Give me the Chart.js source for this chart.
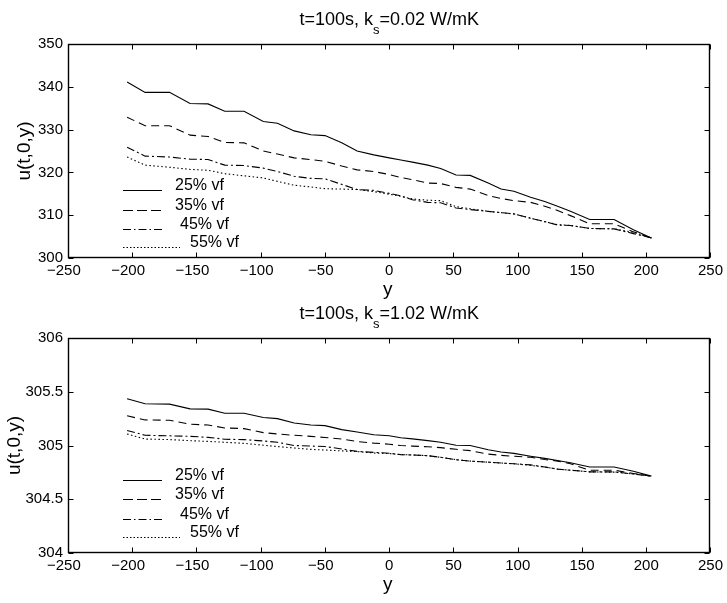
<!DOCTYPE html>
<html>
<head>
<meta charset="utf-8">
<script src="https://cdn.jsdelivr.net/npm/chart.js@4.4.0/dist/chart.umd.min.js"></script>
<style>
  body { margin: 0; background: #fff; }
  .panel { position: absolute; left: 0; width: 727px; }
</style>
</head>
<body>
<div class="panel" style="top:0;height:300px"><canvas id="topChart" width="727" height="300"></canvas></div>
<div class="panel" style="top:300px;height:303px"><canvas id="bottomChart" width="727" height="303"></canvas></div>
<script>
// position along y (shared by every curve)
const yPos = [-204, -190, -171, -155, -141, -128, -113, -98, -87, -74, -61, -50, -37, -25, -12, 0,
              9, 18, 30, 40, 52, 63, 77, 87, 97, 110, 121, 131, 141, 156, 175, 190, 204];

const labels = ["25% vf", "35% vf", "45% vf", "55% vf"];

// k_s = 0.02 W/mK
const top25 = [341.1, 338.7, 338.7, 336.1, 336.0, 334.3, 334.3, 331.9, 331.5, 329.7, 328.8, 328.6, 326.9, 325.0, 324.1, 323.4,
               322.9, 322.4, 321.7, 320.9, 319.4, 319.3, 317.5, 316.1, 315.6, 314.2, 313.2, 312.1, 310.9, 309.0, 309.0, 306.6, 304.7];
const top35 = [332.9, 330.9, 330.9, 328.7, 328.4, 327.0, 326.9, 325.0, 324.3, 323.4, 323.0, 322.6, 321.5, 320.6, 320.2, 319.5,
               318.8, 318.3, 317.5, 317.4, 316.5, 316.1, 314.6, 313.9, 313.4, 313.0, 312.1, 311.1, 309.9, 308.0, 308.0, 306.1, 304.7];
const top45 = [325.9, 323.8, 323.6, 323.1, 323.0, 321.7, 321.6, 321.0, 320.2, 319.1, 318.6, 318.5, 317.2, 316.0, 315.8, 315.1,
               314.5, 313.6, 313.0, 312.9, 311.7, 311.3, 310.9, 310.6, 310.3, 309.3, 308.5, 307.7, 307.6, 306.9, 306.8, 305.7, 304.7];
const top55 = [323.6, 321.7, 321.2, 320.7, 320.5, 319.7, 319.2, 318.7, 317.9, 317.0, 316.6, 316.2, 316.1, 316.0, 315.5, 314.9,
               314.4, 313.8, 313.5, 313.4, 312.0, 311.5, 310.9, 310.6, 310.3, 309.3, 308.5, 307.8, 307.6, 306.9, 306.8, 306.0, 304.7];

// k_s = 1.02 W/mK
const bot25 = [305.435, 305.388, 305.385, 305.341, 305.338, 305.30, 305.30, 305.26, 305.25, 305.21, 305.19, 305.185, 305.148, 305.125, 305.10, 305.09,
               305.072, 305.062, 305.045, 305.03, 305.003, 305.0, 304.96, 304.94, 304.927, 304.90, 304.88, 304.86, 304.84, 304.80, 304.80, 304.76, 304.715];
const bot35 = [305.276, 305.238, 305.235, 305.198, 305.19, 305.163, 305.157, 305.12, 305.107, 305.095, 305.085, 305.075, 305.06, 305.037, 305.022, 305.012,
               305.0, 304.994, 304.988, 304.98, 304.965, 304.952, 304.92, 304.908, 304.90, 304.89, 304.87, 304.855, 304.83, 304.77, 304.77, 304.74, 304.715];
const bot45 = [305.14, 305.095, 305.09, 305.085, 305.076, 305.058, 305.055, 305.042, 305.03, 305.0, 304.995, 304.99, 304.968, 304.945, 304.936, 304.928,
               304.915, 304.912, 304.905, 304.89, 304.868, 304.855, 304.845, 304.837, 304.83, 304.82, 304.80, 304.78, 304.77, 304.755, 304.755, 304.735, 304.715];
const bot55 = [305.107, 305.06, 305.055, 305.045, 305.038, 305.03, 305.02, 305.003, 304.99, 304.977, 304.964, 304.958, 304.95, 304.943, 304.93, 304.925,
               304.915, 304.912, 304.905, 304.89, 304.868, 304.855, 304.845, 304.837, 304.83, 304.815, 304.80, 304.78, 304.77, 304.755, 304.752, 304.735, 304.715];

const FONT = "'Liberation Sans', Arial, Helvetica, sans-serif";
const lineDash = [[], [8, 5], [8, 3, 2, 3], [1.5, 2.5]];
const legendDash = [[], [10, 4], [8, 3, 1.5, 3], [1.5, 2]];

function series(values) {
    return yPos.map((x, i) => ({ x: x, y: values[i] }));
}

function fmtTick(value) {
    let v = +value.toFixed(2);
    if (v < 0) return "\u2212" + Math.abs(v) + "  ";
    return String(v);
}

// box, inward ticks, title with subscript, axis labels and the old-style legend
const matlabAxes = {
    id: "matlabAxes",
    afterDraw(chart, args, opts) {
        let ctx = chart.ctx, a = chart.chartArea;
        let xs = chart.scales.x, ys = chart.scales.y;
        let L = Math.round(a.left) + 0.5, R = Math.round(a.right) - 0.5;
        let T = Math.round(a.top) + 0.5, B = Math.round(a.bottom) - 0.5;
        ctx.save();
        ctx.strokeStyle = "#000";
        ctx.lineWidth = 1.4;
        ctx.setLineDash([]);
        ctx.strokeRect(L, T, R - L, B - T);
        ctx.lineWidth = 1;
        ctx.beginPath();
        xs.ticks.forEach(t => {
            let px = Math.round(xs.getPixelForValue(t.value)) + 0.5;
            ctx.moveTo(px, B); ctx.lineTo(px, B - 5);
            ctx.moveTo(px, T); ctx.lineTo(px, T + 5);
        });
        ys.ticks.forEach(t => {
            let py = Math.round(ys.getPixelForValue(t.value)) + 0.5;
            ctx.moveTo(L, py); ctx.lineTo(L + 5, py);
            ctx.moveTo(R, py); ctx.lineTo(R - 5, py);
        });
        ctx.stroke();

        ctx.fillStyle = "#000";
        // title
        let cx = (a.left + a.right) / 2;
        ctx.font = "18px " + FONT;
        let w1 = ctx.measureText(opts.title[0]).width;
        let w3 = ctx.measureText(opts.title[2]).width;
        ctx.font = "13px " + FONT;
        let w2 = ctx.measureText(opts.title[1]).width;
        let x0 = cx - (w1 + w2 + w3) / 2;
        ctx.textAlign = "left";
        ctx.textBaseline = "alphabetic";
        ctx.font = "18px " + FONT;
        ctx.fillText(opts.title[0], x0, a.top - 19);
        ctx.fillText(opts.title[2], x0 + w1 + w2, a.top - 19);
        ctx.font = "13px " + FONT;
        ctx.fillText(opts.title[1], x0 + w1, a.top - 10);

        // axis labels
        ctx.font = "19px " + FONT;
        ctx.textAlign = "center";
        ctx.fillText("y", cx - 1.5, a.bottom + 37);
        ctx.save();
        ctx.translate(opts.yLabelX, (a.top + a.bottom) / 2);
        ctx.rotate(-Math.PI / 2);
        ctx.textBaseline = "middle";
        ctx.fillText("u(t,0,y)", 0, 0);
        ctx.restore();

        // legend
        ctx.font = "16px " + FONT;
        ctx.textAlign = "left";
        ctx.textBaseline = "alphabetic";
        const lineEnd = [162, 162, 163, 180];
        const textX = [175, 175, 180, 190];
        labels.forEach((lab, i) => {
            let ly = Math.round(a.top + opts.legendY[i]) + 0.5;
            ctx.beginPath();
            ctx.setLineDash(legendDash[i]);
            ctx.moveTo(123, ly);
            ctx.lineTo(lineEnd[i], ly);
            ctx.stroke();
            ctx.fillText(lab, textX[i], ly - 1);
        });
        ctx.restore();
    }
};

function makeChart(id, data, yMin, yMax, yStep, padTop, xAxisH, opts) {
    let datasets = data.map((vals, i) => ({
        label: labels[i],
        data: series(vals),
        borderColor: "#000",
        borderWidth: 1.1,
        borderDash: lineDash[i],
        pointRadius: 0,
        fill: false,
        tension: 0
    }));
    return new Chart(document.getElementById(id), {
        type: "line",
        data: { datasets: datasets },
        plugins: [matlabAxes],
        options: {
            responsive: false,
            animation: false,
            layout: { padding: { top: padTop, right: 14, left: 0, bottom: 0 } },
            plugins: {
                legend: { display: false },
                tooltip: { enabled: false },
                matlabAxes: opts
            },
            scales: {
                x: {
                    type: "linear",
                    min: -250, max: 250,
                    grid: { display: false, drawTicks: false },
                    border: { display: false },
                    ticks: {
                        stepSize: 50, autoSkip: false, maxRotation: 0, padding: 4,
                        color: "#000", font: { family: FONT, size: 15 },
                        callback: fmtTick
                    },
                    afterFit(scale) { scale.height = xAxisH; }
                },
                y: {
                    min: yMin, max: yMax,
                    grid: { display: false, drawTicks: false },
                    border: { display: false },
                    ticks: {
                        stepSize: yStep, padding: 5,
                        color: "#000", font: { family: FONT, size: 15 },
                        callback: fmtTick
                    },
                    afterFit(scale) { scale.width = 68; }
                }
            }
        }
    });
}

makeChart("topChart", [top25, top35, top45, top55], 300, 350, 10, 44, 42, {
    title: ["t=100s, k", "s", "=0.02 W/mK"],
    yLabelX: 25,
    legendY: [146, 166, 185, 203]
});

makeChart("bottomChart", [bot25, bot35, bot45, bot55], 304, 306, 0.5, 38, 50, {
    title: ["t=100s, k", "s", "=1.02 W/mK"],
    yLabelX: 15,
    legendY: [142, 161, 181, 199]
});
</script>
</body>
</html>
